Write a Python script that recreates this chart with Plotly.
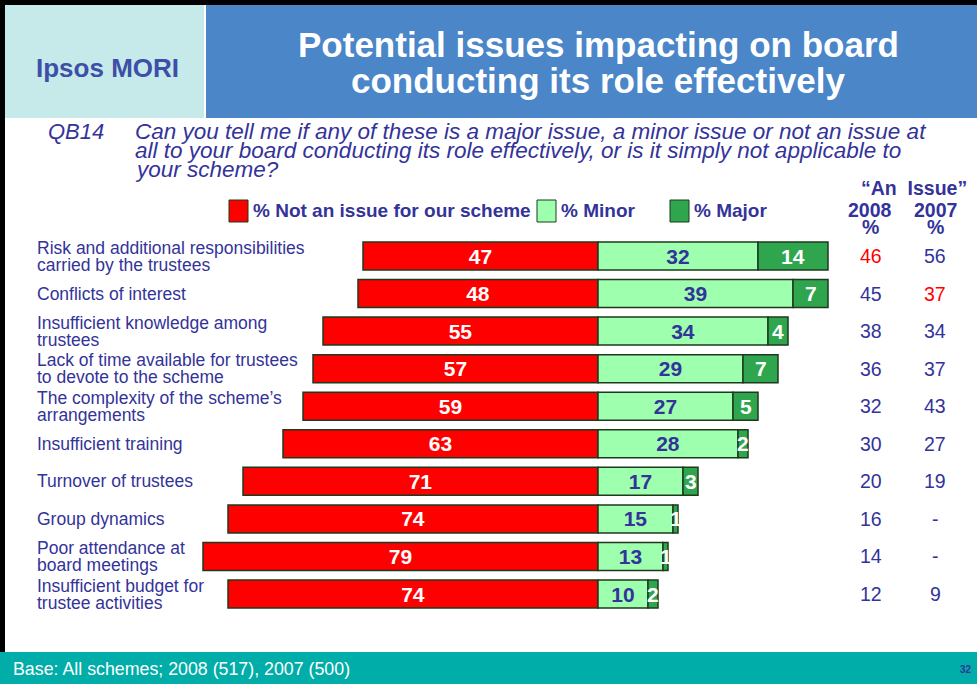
import plotly.graph_objects as go

W, H = 977, 684

# ---------------- data ----------------
label_lines = [
    ["Risk and additional responsibilities", "carried by the trustees"],
    ["Conflicts of interest"],
    ["Insufficient knowledge among", "trustees"],
    ["Lack of time available for trustees", "to devote to the scheme"],
    ["The complexity of the scheme\u2019s", "arrangements"],
    ["Insufficient training"],
    ["Turnover of trustees"],
    ["Group dynamics"],
    ["Poor attendance at", "board meetings"],
    ["Insufficient budget for", "trustee activities"],
]
categories = [" ".join(l) for l in label_lines]
not_issue = [47, 48, 55, 57, 59, 63, 71, 74, 79, 74]
minor = [32, 39, 34, 29, 27, 28, 17, 15, 13, 10]
major = [14, 7, 4, 7, 5, 2, 3, 1, 1, 2]
an_issue_2008 = ["46", "45", "38", "36", "32", "30", "20", "16", "14", "12"]
an_issue_2007 = ["56", "37", "34", "37", "43", "27", "19", "-", "-", "9"]
highlight_2008 = {0}
highlight_2007 = {1}

# ---------------- style ----------------
RED = "#FF0000"
LGREEN = "#9EFFAE"
DGREEN = "#2FA64E"
OUTLINE = "#1E3A1E"
NAVY = "#333399"
FONT = "Arial, Liberation Sans, sans-serif"

def px(x):
    return x / W

def py(y):
    return 1 - y / H

ZERO_PX, UNIT_PX = 598, 5.0
ROW0_PX, ROW_PX = 256, 37.56
x_range = [(0 - ZERO_PX) / UNIT_PX, (W - ZERO_PX) / UNIT_PX]
y_range = [(H - ROW0_PX) / ROW_PX, (0 - ROW0_PX) / ROW_PX]
BAR_W = 28 / ROW_PX

fig = go.Figure()

fig.add_trace(go.Bar(
    y=categories, x=[-v for v in not_issue], base=0, orientation="h",
    width=BAR_W, marker=dict(color=RED, line=dict(color=OUTLINE, width=1.5)),
    text=["<b>%d</b>" % v for v in not_issue], textposition="inside", insidetextanchor="middle",
    textfont=dict(family=FONT, size=21, color="white"), hoverinfo="skip",
    showlegend=False,
))
fig.add_trace(go.Bar(
    y=categories, x=minor, base=0, orientation="h",
    width=BAR_W, marker=dict(color=LGREEN, line=dict(color=OUTLINE, width=1.5)),
    text=["<b>%d</b>" % v for v in minor], textposition="inside", insidetextanchor="middle",
    textfont=dict(family=FONT, size=21, color=NAVY), hoverinfo="skip",
    showlegend=False,
))
fig.add_trace(go.Bar(
    y=categories, x=major, base=minor, orientation="h",
    width=BAR_W, marker=dict(color=DGREEN, line=dict(color=OUTLINE, width=1.5)),
    textposition="none", hoverinfo="skip", showlegend=False,
))

fig.update_layout(
    width=W, height=H, autosize=False,
    margin=dict(l=0, r=0, t=0, b=0),
    paper_bgcolor="white", plot_bgcolor="rgba(0,0,0,0)",
    barmode="overlay",
    xaxis=dict(range=x_range, visible=False, fixedrange=True),
    yaxis=dict(range=y_range, visible=False, fixedrange=True),
    font=dict(family=FONT),
    uniformtext=dict(minsize=21, mode="show"),
)

shapes = []
annotations = []

# header
shapes.append(dict(type="rect", xref="paper", yref="paper", x0=px(0), x1=px(204),
                   y0=py(118), y1=py(0), fillcolor="#C6EAEA", line=dict(width=0), layer="below"))
shapes.append(dict(type="rect", xref="paper", yref="paper", x0=px(206), x1=px(W),
                   y0=py(118), y1=py(0), fillcolor="#4A86C8", line=dict(width=0), layer="below"))
# footer
shapes.append(dict(type="rect", xref="paper", yref="paper", x0=0, x1=1,
                   y0=py(H), y1=py(652), fillcolor="#00ADA8", line=dict(width=0), layer="below"))
# borders
shapes.append(dict(type="rect", xref="paper", yref="paper", x0=0, x1=1,
                   y0=py(5), y1=py(0), fillcolor="black", line=dict(width=0)))
shapes.append(dict(type="rect", xref="paper", yref="paper", x0=0, x1=px(5),
                   y0=py(652), y1=py(0), fillcolor="black", line=dict(width=0)))

annotations.append(dict(xref="paper", yref="paper", x=px(107), y=py(68), text="<b>Ipsos MORI</b>",
                        showarrow=False, font=dict(family=FONT, size=26, color="#3D4FA8"),
                        xanchor="center", yanchor="middle"))
for t, yy in [("Potential issues impacting on board", 44), ("conducting its role effectively", 80)]:
    annotations.append(dict(xref="paper", yref="paper", x=px(598), y=py(yy), text="<b>%s</b>" % t,
                            showarrow=False, font=dict(family=FONT, size=35, color="white"),
                            xanchor="center", yanchor="middle"))

# question
annotations.append(dict(xref="paper", yref="paper", x=px(46), y=py(131), text="<i>QB14</i>",
                        showarrow=False, font=dict(family=FONT, size=22, color=NAVY),
                        xanchor="left", yanchor="middle"))
q_lines = ["Can you tell me if any of these is a major issue, a minor issue or not an issue at",
           "all to your board conducting its role effectively, or is it simply not applicable to",
           "your scheme?"]
for i, t in enumerate(q_lines):
    annotations.append(dict(xref="paper", yref="paper", x=px(133), y=py(131 + 19.5 * i),
                            text="<i>%s</i>" % t, showarrow=False,
                            font=dict(family=FONT, size=22.5, color=NAVY),
                            xanchor="left", yanchor="middle"))

# legend
legend_items = [("% Not an issue for our scheme", RED, 229), ("% Minor", LGREEN, 537), ("% Major", DGREEN, 670)]
for name, col, x0 in legend_items:
    shapes.append(dict(type="rect", xref="paper", yref="paper", x0=px(x0), x1=px(x0 + 19),
                       y0=py(222), y1=py(200), fillcolor=col, line=dict(color=OUTLINE, width=1)))
    annotations.append(dict(xref="paper", yref="paper", x=px(x0 + 22), y=py(210), text="<b>%s</b>" % name,
                            showarrow=False, font=dict(family=FONT, size=19, color=NAVY),
                            xanchor="left", yanchor="middle"))

# right column headers
annotations.append(dict(xref="paper", yref="paper", x=px(914), y=py(188),
                        text="<b>\u201cAn  Issue\u201d</b>", showarrow=False,
                        font=dict(family=FONT, size=19.5, color=NAVY), xanchor="center", yanchor="middle"))
for xx, yr in [(870, "2008"), (935, "2007")]:
    annotations.append(dict(xref="paper", yref="paper", x=px(xx), y=py(210), text="<b>%s</b>" % yr,
                            showarrow=False, font=dict(family=FONT, size=19.5, color=NAVY),
                            xanchor="center", yanchor="middle"))
    annotations.append(dict(xref="paper", yref="paper", x=px(xx), y=py(227), text="<b>%</b>",
                            showarrow=False, font=dict(family=FONT, size=19.5, color=NAVY),
                            xanchor="center", yanchor="middle"))

for i, cat in enumerate(categories):
    lines = label_lines[i]
    offs = [0] if len(lines) == 1 else [8.5, -8.5]
    for ln, off in zip(lines, offs):
        annotations.append(dict(xref="paper", yref="y", x=px(35), y=i, yshift=off, text=ln,
                                showarrow=False, font=dict(family=FONT, size=17.5, color=NAVY),
                                xanchor="left", yanchor="middle"))
    # major value label, centred on the major segment (may overflow narrow bars, as in the original)
    annotations.append(dict(xref="x", yref="y", x=minor[i] + major[i] / 2, y=cat,
                            text="<b>%d</b>" % major[i], showarrow=False,
                            font=dict(family=FONT, size=21, color="white"),
                            xanchor="center", yanchor="middle"))
    annotations.append(dict(xref="paper", yref="y", x=px(871), y=i, text=an_issue_2008[i],
                            showarrow=False,
                            font=dict(family=FONT, size=19.5, color=RED if i in highlight_2008 else NAVY),
                            xanchor="center", yanchor="middle"))
    annotations.append(dict(xref="paper", yref="y", x=px(935), y=i, text=an_issue_2007[i],
                            showarrow=False,
                            font=dict(family=FONT, size=19.5, color=RED if i in highlight_2007 else NAVY),
                            xanchor="center", yanchor="middle"))

# footer text
annotations.append(dict(xref="paper", yref="paper", x=px(11), y=py(669),
                        text="Base: All schemes; 2008 (517), 2007 (500)", showarrow=False,
                        font=dict(family=FONT, size=17.8, color="white"), xanchor="left", yanchor="middle"))
annotations.append(dict(xref="paper", yref="paper", x=px(958), y=py(669), text="<b>32</b>",
                        showarrow=False, font=dict(family=FONT, size=10, color=NAVY),
                        xanchor="left", yanchor="middle"))

fig.update_layout(shapes=shapes, annotations=annotations)
fig.write_html("out.html")
